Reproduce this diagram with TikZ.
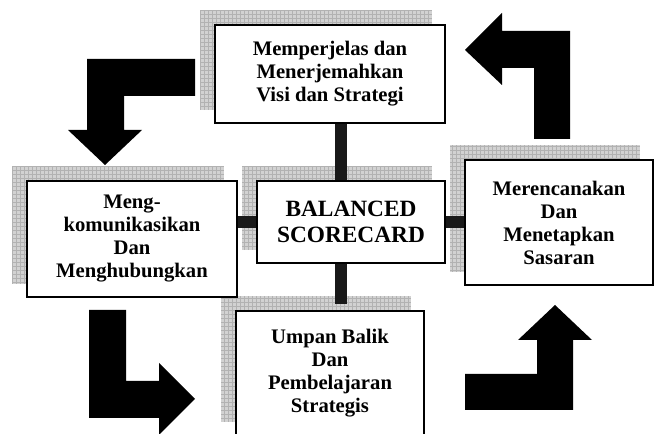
\documentclass[tikz,border=0pt]{standalone}
\usepackage{fontspec}
\setmainfont{Liberation Serif}
\usepackage{tikz}
\usetikzlibrary{positioning, backgrounds, patterns}

\begin{document}
\begin{tikzpicture}[
    x=0.75pt, y=-0.75pt,
    every node/.style={
        draw,
        rectangle,
        line width=1.2pt,
        fill=white,
        align=center,
        text centered,
        font=\fontsize{15.5}{17.25}\selectfont\bfseries
    },
    core/.style={font=\fontsize{17.5}{20}\selectfont\bfseries},
    gridshade/.style={fill=gray!35, postaction={pattern=grid, pattern color=gray!60}},
    bar/.style={line width=9pt, draw=black!90},
    bigarrow/.style={fill=black}
]
\useasboundingbox (0,0) rectangle (654,434);
\clip (0,0) rectangle (654,434);

% Boxes
\node[minimum width=172.5pt, minimum height=73.5pt] (visi) at (330,74)
    {Memperjelas dan\\Menerjemahkan\\Visi dan Strategi};
\node[minimum width=157.5pt, minimum height=87pt] (komunikasi) at (132,239)
    {Meng-\\komunikasikan\\Dan\\Menghubungkan};
\node[core, minimum width=141pt, minimum height=61.5pt] (bsc) at (351,222)
    {BALANCED\\SCORECARD};
\node[minimum width=141pt, minimum height=93.75pt] (sasaran) at (559,222.5)
    {Merencanakan\\Dan\\Menetapkan\\Sasaran};
\node[minimum width=141pt, minimum height=93pt] (umpan) at (330,373)
    {Umpan Balik\\Dan\\Pembelajaran\\Strategis};

% Shadows and links behind the boxes
\begin{scope}[on background layer]
\foreach \n in {visi, komunikasi, bsc, sasaran, umpan}
    \path[gridshade] ([shift={(-14,-14)}]\n.south west) rectangle ([shift={(-14,-14)}]\n.north east);
\draw[bar] ([shift={(11,0)}]visi.south) -- ([shift={(11,0)}]visi.south |- bsc.north);
\draw[bar, shorten >=4.5pt] ([shift={(-10,0)}]bsc.south) -- ([shift={(-10,0)}]bsc.south |- umpan.north);
\draw[bar] (komunikasi.east |- bsc.west) -- (bsc.west);
\draw[bar] (bsc.east) -- (bsc.east -| sasaran.west);
\end{scope}

% Turning arrows
\fill[bigarrow] (195,59) -- (87,59) -- (87,130) -- (68,130) -- (105,165)
    -- (142,130) -- (124,130) -- (124,96) -- (195,96) -- cycle;
\fill[bigarrow] (465,50) -- (502,13) -- (502,31) -- (570,31) -- (570,139)
    -- (534,139) -- (534,68) -- (502,68) -- (502,85) -- cycle;
\fill[bigarrow] (89,310) -- (126,310) -- (126,381) -- (159,381) -- (159,363)
    -- (195,399) -- (159,435) -- (159,418) -- (89,418) -- cycle;
\fill[bigarrow] (465,410) -- (465,374) -- (537,374) -- (537,340) -- (518,340)
    -- (555,305) -- (592,340) -- (573,340) -- (573,410) -- cycle;

\end{tikzpicture}
\end{document}
